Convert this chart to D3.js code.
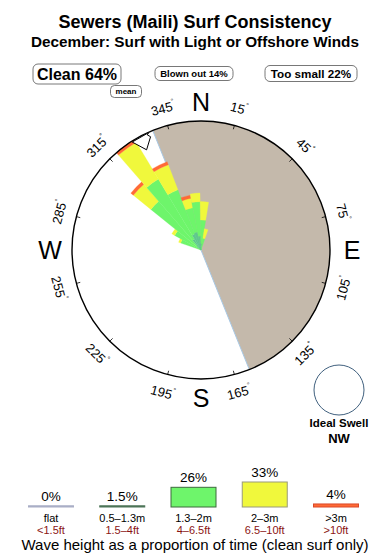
<!DOCTYPE html>
<html>
<head>
<meta charset="utf-8">
<script src="https://cdn.jsdelivr.net/npm/d3@7"></script>
<style>
  body { margin: 0; background: #fff; }
  svg { display: block; font-family: "Liberation Sans", Arial, sans-serif; }
</style>
</head>
<body>
<div id="chart"></div>
<script>
// rose bins (compass degrees) and stacked share per wave size (% of time)
const directions = [294, 304, 314, 324, 334, 344, 354, 4, 14];
const small  = [0,   0,   0.5, 1.2, 1.6, 1.7, 1.3, 0.6, 0];   // 0.5-1.3m
const medium = [2.0, 2.8, 5.5, 6.5, 4.4, 2.3, 3.2, 2.2, 1.1]; // 1.3-2m
const large  = [0.2, 0.3, 2.1, 4.0, 2.5, 0.9, 0.8, 1.7, 0.9]; // 2-3m
const xlarge = [0,   0,   0.3, 0.3, 0.3, 0.3, 0,   0,   0];   // >3m

const tickDegrees = [15, 45, 75, 105, 135, 165, 195, 225, 255, 285, 315, 345];
const cardinals = [["N", 0], ["E", 90], ["S", 180], ["W", 270]];
const shoreAngle = 338;
const meanDir = 331.5;

const summary = [
  { label: "Clean 64%", x: 77, y: 74, w: 88, h: 20, size: 16 },
  { label: "Blown out 14%", x: 194, y: 73.5, w: 78, h: 14, size: 9.5 },
  { label: "Too small 22%", x: 311, y: 73.5, w: 92, h: 16, size: 11.7 }
];

const legendCats = ["flat", "0.5\u20131.3m", "1.3\u20132m", "2\u20133m", ">3m"];
const legendFeet = ["<1.5ft", "1.5\u20134ft", "4\u20136.5ft", "6.5\u201310ft", ">10ft"];
const legendPct = [0, 1.5, 26, 33, 4];
const legendPctLabels = ["0%", "1.5%", "26%", "33%", "4%"];

const colors = ["#5fc98c", "#6ef56b", "#f0f83c", "#ff6a35"];
const legendFill = ["#a9aec6", "#4d7558", "#6ef56b", "#f0f83c", "#ff6a35"];
const legendStroke = ["#a9aec6", "#4d7558", "#3d6a3d", "#9a9a7a", "#d9482a"];

const W = 390, H = 560;
const cx = 201, cy = 250, R = 129;
const rad = d => d * Math.PI / 180;

const svg = d3.select("#chart").append("svg")
    .attr("width", W)
    .attr("height", H);

// titles
svg.append("text")
    .attr("x", W / 2).attr("y", 28)
    .attr("text-anchor", "middle")
    .attr("font-size", 18).attr("font-weight", "bold")
    .text("Sewers (Maili) Surf Consistency");

svg.append("text")
    .attr("x", W / 2).attr("y", 46.5)
    .attr("text-anchor", "middle")
    .attr("font-size", 15.3).attr("font-weight", "bold")
    .text("December: Surf with Light or Offshore Winds");

// summary boxes
summary.forEach(s => {
    svg.append("rect")
        .attr("x", s.x - s.w / 2).attr("y", s.y - s.h / 2)
        .attr("width", s.w).attr("height", s.h)
        .attr("rx", 5)
        .attr("fill", "#fff").attr("stroke", "#555").attr("stroke-width", 0.8);
    svg.append("text")
        .attr("x", s.x).attr("y", s.y)
        .attr("text-anchor", "middle").attr("dominant-baseline", "central")
        .attr("font-size", s.size).attr("font-weight", "bold")
        .text(s.label);
});

svg.append("rect")
    .attr("x", 110.5).attr("y", 85.5).attr("width", 31).attr("height", 12)
    .attr("rx", 4)
    .attr("fill", "#fff").attr("stroke", "#555").attr("stroke-width", 0.8);
svg.append("text")
    .attr("x", 126).attr("y", 91.5)
    .attr("text-anchor", "middle").attr("dominant-baseline", "central")
    .attr("font-size", 8).attr("font-weight", "bold")
    .text("mean");

// rose
const g = svg.append("g").attr("transform", `translate(${cx},${cy})`);

g.append("circle").attr("r", R).attr("fill", "#fff");

// land half
g.append("path")
    .attr("d", d3.arc()({
        innerRadius: 0, outerRadius: R,
        startAngle: rad(shoreAngle - 360), endAngle: rad(shoreAngle - 180)
    }))
    .attr("fill", "#c4b9ab");

g.append("line")
    .attr("x1", R * Math.sin(rad(shoreAngle))).attr("y1", -R * Math.cos(rad(shoreAngle)))
    .attr("x2", -R * Math.sin(rad(shoreAngle))).attr("y2", R * Math.cos(rad(shoreAngle)))
    .attr("stroke", "#a8c8e4").attr("stroke-width", 1);

const maxTotal = d3.max(directions, (d, i) => small[i] + medium[i] + large[i] + xlarge[i]);
const r = d3.scaleLinear().domain([0, maxTotal]).range([0, R]);

const stacked = directions.map((dir, i) => {
    const vals = [small[i], medium[i], large[i], xlarge[i]];
    let acc = 0;
    return vals.map((v, k) => {
        const seg = { dir, k, r0: acc, r1: acc + v };
        acc += v;
        return seg;
    }).filter(s => s.r1 > s.r0);
}).flat();

const petal = d3.arc()
    .innerRadius(d => r(d.r0))
    .outerRadius(d => r(d.r1))
    .startAngle(d => rad(d.dir - 5))
    .endAngle(d => rad(d.dir + 5));

g.selectAll("path.petal")
    .data(stacked)
    .enter()
    .append("path")
    .attr("class", "petal")
    .attr("d", petal)
    .attr("fill", d => colors[d.k])
    .attr("stroke", d => colors[d.k])
    .attr("stroke-width", 0.3);

// outline + ticks
g.append("circle").attr("r", R)
    .attr("fill", "none").attr("stroke", "#000").attr("stroke-width", 1.4);

g.selectAll("line.tick")
    .data(tickDegrees)
    .enter()
    .append("line")
    .attr("class", "tick")
    .attr("x1", d => (R - 4) * Math.sin(rad(d)))
    .attr("y1", d => -(R - 4) * Math.cos(rad(d)))
    .attr("x2", d => R * Math.sin(rad(d)))
    .attr("y2", d => -R * Math.cos(rad(d)))
    .attr("stroke", "#000").attr("stroke-width", 0.8);

const degLabels = g.selectAll("text.deg")
    .data(tickDegrees)
    .enter()
    .append("text")
    .attr("class", "deg")
    .attr("transform", d => {
        const x = 147 * Math.sin(rad(d));
        const y = -147 * Math.cos(rad(d));
        const rot = ((d + 90) % 180) - 90;
        return `translate(${x},${y}) rotate(${rot})`;
    })
    .attr("text-anchor", "middle")
    .attr("dominant-baseline", "central")
    .attr("font-size", 13);
degLabels.append("tspan").text(d => d);
degLabels.append("tspan").attr("font-size", 7).attr("dy", -5).text("\u00b0");

g.selectAll("text.card")
    .data(cardinals)
    .enter()
    .append("text")
    .attr("class", "card")
    .attr("x", d => 151 * Math.sin(rad(d[1])))
    .attr("y", d => -148 * Math.cos(rad(d[1])))
    .attr("text-anchor", "middle")
    .attr("dominant-baseline", "central")
    .attr("font-size", 25)
    .text(d => d[0]);

// mean direction marker
const pol = (a, rr) => [rr * Math.sin(rad(a)), -rr * Math.cos(rad(a))];
g.append("path")
    .attr("d", d3.line()([
        pol(meanDir - 4, R - 1), pol(meanDir, R - 15), pol(meanDir + 4.5, R - 5),
        pol(meanDir + 3.5, R - 2), pol(meanDir + 4.5, R - 0.5)
    ]) + "Z")
    .attr("fill", "#fff").attr("stroke", "#000").attr("stroke-width", 1);

// ideal swell
svg.append("circle")
    .attr("cx", 339).attr("cy", 390).attr("r", 25)
    .attr("fill", "#fff").attr("stroke", "#40607e").attr("stroke-width", 1);
svg.append("text")
    .attr("x", 339).attr("y", 427)
    .attr("text-anchor", "middle")
    .attr("font-size", 11.5).attr("font-weight", "bold")
    .text("Ideal Swell");
svg.append("text")
    .attr("x", 339).attr("y", 443)
    .attr("text-anchor", "middle")
    .attr("font-size", 13).attr("font-weight", "bold")
    .text("NW");

// legend
const lx = d3.scalePoint().domain(legendCats).range([51, 336]);
const lh = d3.scaleLinear().domain([0, 33]).range([0, 25]);
const base = 507;
const bw = 45;

const legend = svg.append("g");
legendCats.forEach((c, i) => {
    const x = lx(c);
    const h = Math.max(lh(legendPct[i]), 1.2);
    legend.append("rect")
        .attr("x", x - bw / 2).attr("y", base - h)
        .attr("width", bw).attr("height", h)
        .attr("fill", legendFill[i])
        .attr("stroke", legendStroke[i]).attr("stroke-width", 1);
    legend.append("text")
        .attr("x", x).attr("y", base - h - 5)
        .attr("text-anchor", "middle")
        .attr("font-size", 13.5)
        .text(legendPctLabels[i]);
    legend.append("text")
        .attr("x", x).attr("y", 521.5)
        .attr("text-anchor", "middle")
        .attr("font-size", 11)
        .text(c);
    legend.append("text")
        .attr("x", x).attr("y", 533.5)
        .attr("text-anchor", "middle")
        .attr("font-size", 11)
        .attr("fill", "#8b1414")
        .text(legendFeet[i]);
});

svg.append("text")
    .attr("x", W / 2).attr("y", 549.5)
    .attr("text-anchor", "middle")
    .attr("font-size", 15)
    .text("Wave height as a proportion of time (clean surf only)");
</script>
</body>
</html>
